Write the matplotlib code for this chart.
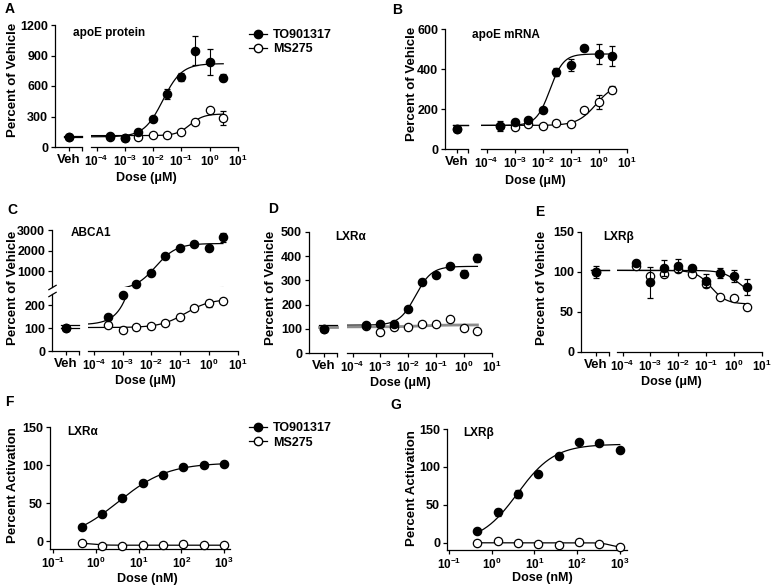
import numpy as np
import matplotlib
matplotlib.use("Agg")
import matplotlib.pyplot as plt
from matplotlib.lines import Line2D
from matplotlib.ticker import NullLocator

plt.rcParams['font.family'] = ['Liberation Sans', 'DejaVu Sans']
plt.rcParams['font.weight'] = 'bold'
plt.rcParams['mathtext.fontset'] = 'custom'
plt.rcParams['mathtext.bf'] = 'Liberation Sans:bold'
plt.rcParams['mathtext.rm'] = 'Liberation Sans:bold'
plt.rcParams['mathtext.default'] = 'bf'

# ---- data (doses in uM for A-E, nM for F-G) ----
doses_um = [0.0003, 0.001, 0.003, 0.01, 0.03, 0.1, 0.3, 1, 3]
doses_nm = [0.457, 1.37, 4.12, 12.3, 37, 111, 333, 1000]

a_to = [105, 89, 148, 280, 524, 689, 949, 837, 682]
a_to_err = [10, 8, 10, 15, 50, 40, 145, 125, 35]
a_ms = [100, 92, 99, 122, 122, 152, 250, 366, 283]
a_ms_err = [5, 5, 5, 5, 5, 5, 10, 10, 70]

b_to = [117, 133, 147, 197, 383, 422, 507, 477, 463]
b_to_err = [25, 10, 10, 8, 20, 30, 8, 50, 50]
b_ms = [113, 110, 127, 117, 130, 125, 193, 233, 297]
b_ms_err = [5, 5, 5, 5, 5, 5, 8, 35, 18]

c_to = [149, 245, 411, 938, 1729, 2147, 2302, 2116, 2643]
c_to_err = [8, 10, 30, 40, 60, 50, 40, 150, 220]
c_ms = [115, 94, 107, 109, 124, 149, 190, 210, 219]
c_ms_err = [10, 10, 4, 4, 5, 15, 6, 15, 6]

d_to = [117, 120, 120, 181, 293, 323, 358, 327, 393]
d_to_err = [8, 6, 5, 5, 12, 8, 6, 15, 15]
d_ms = [112, 87, 108, 106, 120, 121, 141, 104, 92]
d_ms_err = [4, 4, 4, 4, 4, 4, 4, 4, 4]

e_to = [111, 87, 105, 108, 105, 89, 99, 95, 81]
e_to_err = [2, 19, 10, 8, 4, 8, 6, 8, 10]
e_ms = [108, 95, 97, 104, 98, 85, 69, 68, 56]
e_ms_err = [3, 3, 3, 3, 4, 4, 2, 2, 3]

f_to = [19, 36, 57, 76, 87, 98, 100, 101]
f_to_err = [2, 2, 3, 2, 3, 2, 2, 2]
f_ms = [-3, -6, -7, -5, -5, -4, -5, -5]

g_to = [16, 40, 64, 91, 114, 133, 131, 122]
g_to_err = [2, 5, 5, 2, 2, 2, 2, 2]
g_ms = [0, 2, 0, -2, -3, 1, -1, -5]

# vehicle values (TO901317, MS275) and error
veh_a = [100, 100]
veh_b = [100, 100]
veh_c = [100, 100]
veh_d = [100, 100]
veh_e = [100, 100]
veh_e_err = 8

# fitted curves: low, high, ec50, hill
fit_a_to = [100, 820, 0.022, 1.3]
fit_a_ms = [112, 325, 0.2, 1.8]
fit_b_to = [118, 475, 0.018, 1.8]
fit_b_ms = [118, 330, 0.8, 1.3]
fit_c_to = [115, 2350, 0.014, 1.2]
fit_c_ms = [103, 228, 0.15, 1.0]
fit_d_to = [115, 358, 0.018, 1.5]
fit_d_ms = [108, 116, 0.03, 1.0]
fit_e_to = [102, 70, 1.5, 1.5]
fit_e_ms = [102, 60, 0.15, 1.6]
fit_f_to = [0, 103, 3.3, 0.75]
fit_f_ms = [-2.5, -5.5, 0.8, 3.0]
fit_g_to = [0, 130, 4.0, 1.0]
fit_g_ms = [0, -6, 600, 4.0]

W, H = 774, 588
fig = plt.figure(figsize=(W / 100, H / 100), dpi=100)
VEH_X = 0.52
FS = 9
FS_EXP = 8.5


def box(x0, x1, y0, y1):
    return fig.add_axes([x0 / W, 1 - y1 / H, (x1 - x0) / W, (y1 - y0) / H])


def txt(x, y, s, size=8.5, **kw):
    fig.text(x / W, 1 - y / H, s, fontsize=size, fontweight='bold', **kw)


def style(ax):
    for s in ('top', 'right'):
        ax.spines[s].set_visible(False)
    for s in ('left', 'bottom'):
        ax.spines[s].set_linewidth(0.9)
    ax.tick_params(direction='out', length=3, width=0.9, labelsize=FS, pad=2)
    ax.patch.set_alpha(0)


def decade_ticks(ax, lo, hi):
    ax.set_xticks([10.0 ** k for k in range(lo, hi + 1)])
    ax.set_xticklabels([r'$10^{%d}$' % k for k in range(lo, hi + 1)], fontsize=FS_EXP)
    ax.xaxis.set_minor_locator(NullLocator())


def hill(x, p):
    lo, hi, ec50, h = p
    return lo + (hi - lo) / (1 + (ec50 / x) ** h)


def points(ax, x, y, err, filled, clip=True):
    fc = 'black' if filled else 'white'
    ax.errorbar(x, y, yerr=err, fmt='o', ms=6, mfc=fc, mec='black', mew=0.9,
                ecolor='black', elinewidth=0.8, capsize=2.5, capthick=0.8,
                zorder=4 if filled else 3, clip_on=clip)


def dose_panel(xs, ys, ylim, yticks, to, to_err, ms, ms_err, fto, fms, veh,
               veh_err=0, ms_color='black', ms_lw=0.9):
    x0, xv, xm, x1 = xs
    av = box(x0, xv, ys[0], ys[1])
    am = box(xm, x1, ys[0], ys[1])
    for a in (av, am):
        style(a)
        a.set_ylim(ylim)
    av.set_xlim(0, 1)
    av.set_xticks([VEH_X, 1])
    av.set_xticklabels(['Veh', ''], fontsize=9.5)
    av.set_yticks(yticks)
    am.spines['left'].set_visible(False)
    am.set_yticks([])
    am.set_xscale('log')
    am.set_xlim(10 ** -4.2, 10)
    decade_ticks(am, -4, 1)

    xx = np.logspace(-4.2, np.log10(doses_um[-1]), 300)
    am.plot(xx, hill(xx, fto), color='black', lw=0.9, zorder=2)
    am.plot(xx, hill(xx, fms), color=ms_color, lw=ms_lw, zorder=2)
    av.plot([0.35, 1], [fms[0], fms[0]], color=ms_color, lw=ms_lw, clip_on=False)
    av.plot([0.35, 1], [fto[0], fto[0]], color='black', lw=0.9, clip_on=False)

    points(am, doses_um, ms, ms_err, False, clip=False)
    points(am, doses_um, to, to_err, True, clip=False)
    points(av, [VEH_X], [veh[1]], 0, False, clip=False)
    points(av, [VEH_X], [veh[0]], veh_err, True, clip=False)
    return av, am


# ---- A ----
dose_panel((55, 82, 91, 238), (25, 147), (0, 1200), [0, 300, 600, 900, 1200],
           a_to, a_to_err, a_ms, a_ms_err, fit_a_to, fit_a_ms, veh_a)
# ---- B ----
dose_panel((445, 468, 481, 627), (29, 149), (0, 600), [0, 200, 400, 600],
           b_to, b_to_err, b_ms, b_ms_err, fit_b_to, fit_b_ms, veh_b)
# ---- D ----
dose_panel((309, 337, 347, 492), (232, 353), (0, 500), [0, 100, 200, 300, 400, 500],
           d_to, d_to_err, d_ms, d_ms_err, fit_d_to, fit_d_ms, veh_d,
           ms_color='0.55', ms_lw=2.0)
# ---- E ----
dose_panel((581, 609, 617, 762), (232, 352), (0, 150), [0, 50, 100, 150],
           e_to, e_to_err, e_ms, e_ms_err, fit_e_to, fit_e_ms, veh_e, veh_err=veh_e_err)

# ---- C (broken y axis) ----
cv_hi = box(52, 79, 230, 287)
cv_lo = box(52, 79, 294, 351)
cm_hi = box(88, 238, 230, 287)
cm_lo = box(88, 238, 294, 351)
for a in (cv_hi, cv_lo, cm_hi, cm_lo):
    style(a)
for a in (cv_hi, cm_hi):
    a.set_ylim(250, 3000)
    a.spines['bottom'].set_visible(False)
    a.set_xticks([])
for a in (cv_lo, cm_lo):
    a.set_ylim(0, 250)
for a in (cm_hi, cm_lo):
    a.spines['left'].set_visible(False)
    a.set_yticks([])
    a.set_xscale('log')
    a.set_xlim(10 ** -4.2, 10)
    a.xaxis.set_minor_locator(NullLocator())
cm_hi.set_xticks([])
cv_hi.set_xlim(0, 1)
cv_hi.set_yticks([1000, 2000, 3000])
cv_lo.set_xlim(0, 1)
cv_lo.set_yticks([0, 100, 200])
cv_lo.set_xticks([VEH_X, 1])
cv_lo.set_xticklabels(['Veh', ''], fontsize=9.5)
decade_ticks(cm_lo, -4, 1)

xx = np.logspace(-4.2, np.log10(doses_um[-1]), 300)
for a in (cm_hi, cm_lo):
    a.plot(xx, hill(xx, fit_c_to), color='black', lw=0.9)
    a.plot(xx, hill(xx, fit_c_ms), color='black', lw=0.9)
cv_lo.plot([0.35, 1], [fit_c_to[0], fit_c_to[0]], color='black', lw=0.9, clip_on=False)
cv_lo.plot([0.35, 1], [fit_c_ms[0], fit_c_ms[0]], color='black', lw=0.9, clip_on=False)

points(cm_lo, doses_um, c_ms, c_ms_err, False, clip=False)
for xd, yd, ed in zip(doses_um, c_to, c_to_err):
    target = cm_lo if yd <= 250 else cm_hi
    points(target, [xd], [yd], ed, True, clip=False)
points(cv_lo, [VEH_X], [veh_c[1]], 0, False, clip=False)
points(cv_lo, [VEH_X], [veh_c[0]], 0, True, clip=False)

kw = dict(marker=[(-1, -0.6), (1, 0.6)], markersize=6, linestyle='none',
          color='black', mec='black', mew=0.9, clip_on=False)
cv_lo.plot([0], [1], transform=cv_lo.transAxes, **kw)
cv_hi.plot([0], [0], transform=cv_hi.transAxes, **kw)


# ---- F and G ----
def act_panel(xs, ys, xlim, to, to_err, ms, fto, fms):
    ax = box(xs[0], xs[1], ys[0], ys[1])
    style(ax)
    ax.set_xscale('log')
    ax.set_xlim(10 ** xlim[0], 10 ** xlim[1])
    ax.set_ylim(ys[2], 150)
    ax.set_yticks([0, 50, 100, 150])
    decade_ticks(ax, -1, 3)
    xx = np.logspace(np.log10(doses_nm[0]), np.log10(doses_nm[-1]), 300)
    ax.plot(xx, hill(xx, fto), color='black', lw=0.9)
    ax.plot(xx, hill(xx, fms), color='black', lw=0.9)
    points(ax, doses_nm, ms, 0, False, clip=False)
    points(ax, doses_nm, to, to_err, True, clip=False)
    return ax


act_panel((50, 230), (427, 549, -10.5), (-1.08, 3.14), f_to, f_to_err, f_ms, fit_f_to, fit_f_ms)
act_panel((447, 627), (429, 550, -9.5), (-1.05, 3.17), g_to, g_to_err, g_ms, fit_g_to, fit_g_ms)

# ---- legends ----
handles = [
    Line2D([], [], color='black', lw=0.9, marker='o', ms=6, mfc='black', mec='black'),
    Line2D([], [], color='black', lw=0.9, marker='o', ms=6, mfc='white', mec='black'),
]
names = ['TO901317', 'MS275']
for ytop in (29, 422):
    fig.legend(handles, names, loc='upper left', bbox_to_anchor=(249 / W, 1 - ytop / H),
               frameon=False, borderpad=0, borderaxespad=0, handlelength=1.4,
               handletextpad=0.5, labelspacing=0.2, prop={'weight': 'bold', 'size': 9})

# ---- labels ----
for x, y, s in [(5, 9, 'A'), (392, 10, 'B'), (7, 210, 'C'), (268, 209, 'D'),
                (535, 212, 'E'), (5, 402, 'F'), (390, 405, 'G')]:
    txt(x, y, s, size=10, va='center', ha='left')

for x, y, s in [(73, 33, 'apoE protein'), (472, 35, 'apoE mRNA'), (71, 233, 'ABCA1'),
                (335, 237, 'LXRα'), (603, 237, 'LXRβ'), (67, 432, 'LXRα'), (463, 433, 'LXRβ')]:
    txt(x, y, s, size=8.5, va='center', ha='left')

for x, y, s in [(13, 80, 'Percent of Vehicle'), (412, 84, 'Percent of Vehicle'),
                (13, 288, 'Percent of Vehicle'), (271, 288, 'Percent of Vehicle'),
                (542, 288, 'Percent of Vehicle'), (13, 485, 'Percent Activation'),
                (412, 488, 'Percent Activation')]:
    txt(x, y, s, size=9.5, va='center', ha='center', rotation=90)

for x, y, s in [(146, 178, 'Dose (μM)'), (535, 181, 'Dose (μM)'), (145, 381, 'Dose (μM)'),
                (400, 383, 'Dose (μM)'), (671, 382, 'Dose (μM)'), (147, 579, 'Dose (nM)'),
                (542, 578, 'Dose (nM)')]:
    txt(x, y, s, size=9, va='center', ha='center')

fig.savefig('out.png', dpi=100)
